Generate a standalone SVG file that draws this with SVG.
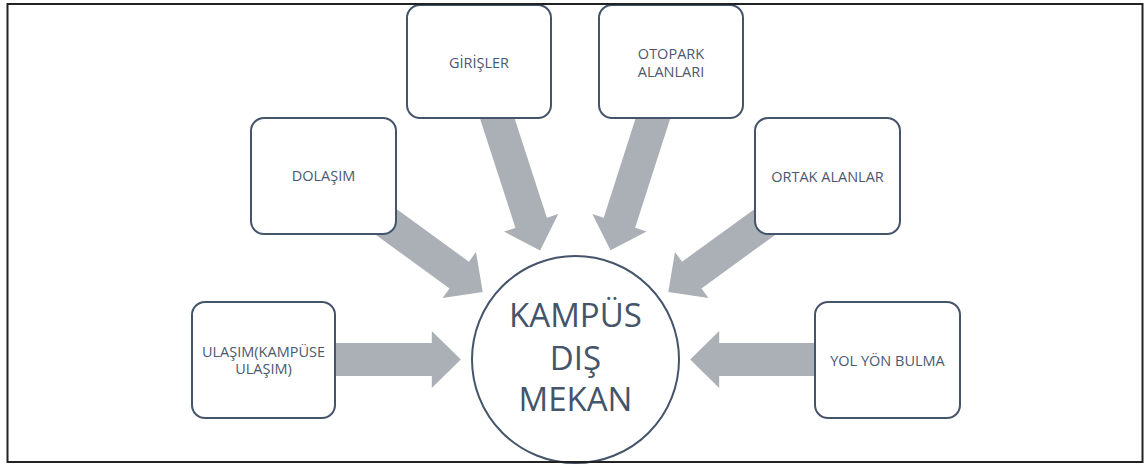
<svg xmlns="http://www.w3.org/2000/svg" xmlns:xlink="http://www.w3.org/1999/xlink" width="1147" height="465" viewBox="0 0 1147 465">
  <style>
    .node rect { fill: #ffffff; stroke: #44546A; stroke-width: 2; }
    .lbl { font-family: "Open Sans", "Liberation Sans", sans-serif; font-size: 14.5px; fill: #4B5870; text-anchor: middle; }
    .big { font-family: "Open Sans", "Liberation Sans", sans-serif; font-size: 33px; fill: #44546A; text-anchor: middle; }
    .arrow { fill: #ABAFB6; }
  </style>
  <defs>
    <polygon id="arr" class="arrow" points="265.8,343 431.8,343 431.8,331 460.8,359.5 431.8,388 431.8,376 265.8,376"/>
  </defs>
  <rect x="0" y="0" width="1147" height="465" fill="#ffffff"/>

  <g id="connectors">
    <use xlink:href="#arr" href="#arr"/>
    <use xlink:href="#arr" href="#arr" transform="rotate(36 575.5 359.5)"/>
    <use xlink:href="#arr" href="#arr" transform="rotate(72.03 575.5 359.5)"/>
    <use xlink:href="#arr" href="#arr" transform="rotate(107.8 575.5 359.5)"/>
    <use xlink:href="#arr" href="#arr" transform="rotate(144 575.5 359.5)"/>
    <use xlink:href="#arr" href="#arr" transform="rotate(180 575.5 359.5)"/>
  </g>

  <g id="node-girisler" class="node">
    <rect x="407" y="5" width="144" height="113" rx="13"/>
    <text class="lbl" x="479" y="68">GİRİŞLER</text>
  </g>
  <g id="node-otopark" class="node">
    <rect x="599" y="5" width="144" height="113" rx="13"/>
    <text class="lbl" x="671" y="58.5">OTOPARK</text>
    <text class="lbl" x="671" y="76.5">ALANLARI</text>
  </g>
  <g id="node-dolasim" class="node">
    <rect x="251" y="118" width="145" height="116" rx="13"/>
    <text class="lbl" x="323.5" y="181">DOLAŞIM</text>
  </g>
  <g id="node-ortak" class="node">
    <rect x="755" y="118" width="145" height="116" rx="13"/>
    <text class="lbl" x="827.5" y="182">ORTAK ALANLAR</text>
  </g>
  <g id="node-ulasim" class="node">
    <rect x="192" y="302" width="143" height="116" rx="13"/>
    <text class="lbl" x="263.5" y="357">ULAŞIM(KAMPÜSE</text>
    <text class="lbl" x="263.5" y="374">ULAŞIM)</text>
  </g>
  <g id="node-yol" class="node">
    <rect x="815" y="302" width="145" height="116" rx="13"/>
    <text class="lbl" x="887.5" y="366">YOL YÖN BULMA</text>
  </g>
  <g id="node-kampus">
    <circle cx="575.5" cy="359.5" r="103.5" fill="#ffffff" stroke="#44546A" stroke-width="2"/>
    <text class="big" x="575.5" y="327">KAMPÜS</text>
    <text class="big" x="575.5" y="369.5">DIŞ</text>
    <text class="big" x="575.5" y="411">MEKAN</text>
  </g>

  <rect x="7.5" y="4" width="1135" height="458" fill="none" stroke="#222222" stroke-width="2"/>
</svg>
